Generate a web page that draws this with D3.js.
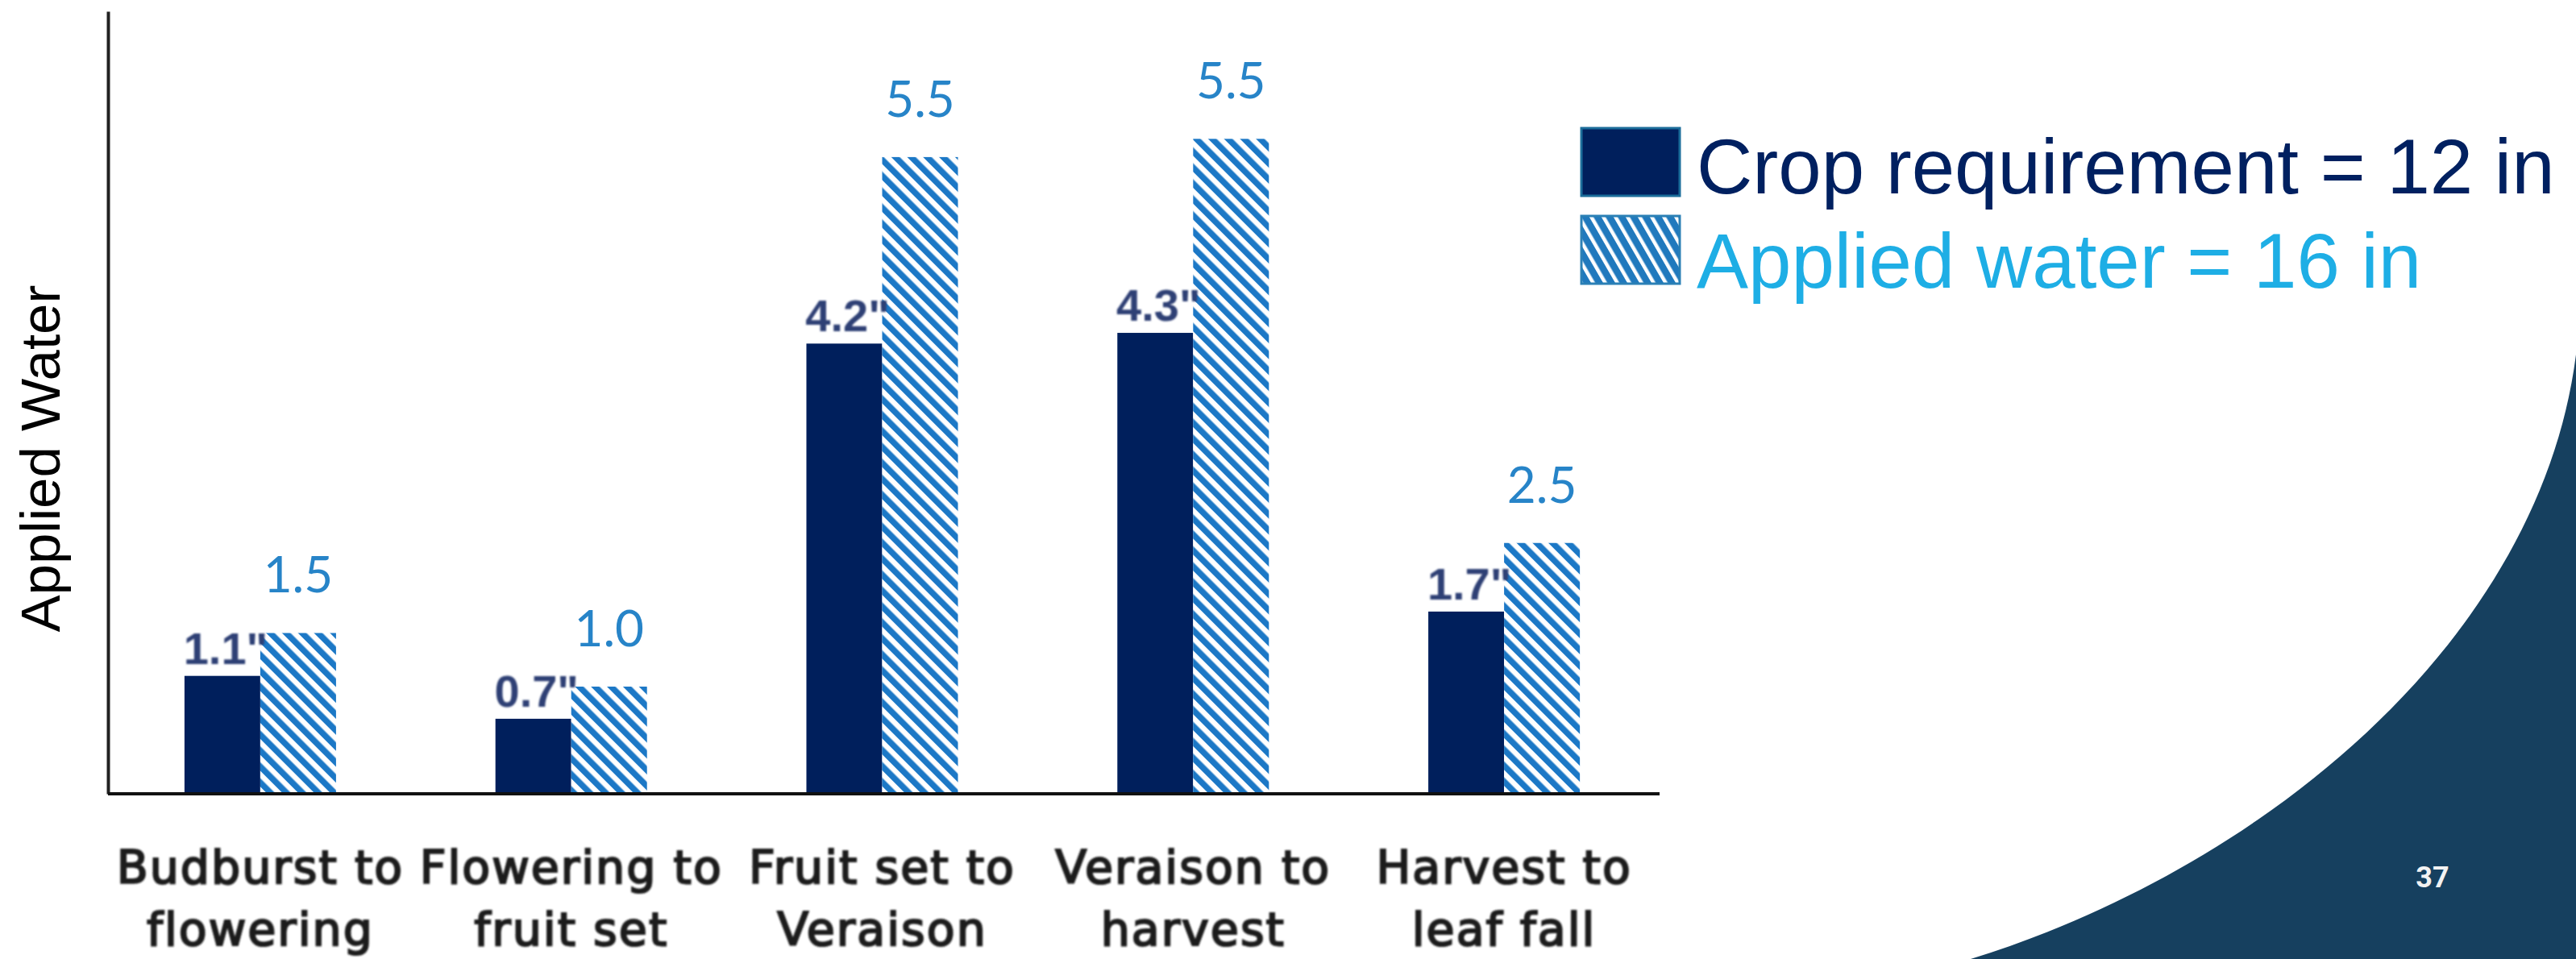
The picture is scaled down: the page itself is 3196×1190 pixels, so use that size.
<!DOCTYPE html>
<html><head><meta charset="utf-8">
<script src="https://cdn.jsdelivr.net/npm/d3@7"></script>
<style>html,body{margin:0;padding:0;background:#fff;overflow:hidden}</style>
</head><body><svg id="chart" width="3196" height="1190"></svg>
<script>
// ---- data ----
const categories = ["Budburst to\nflowering", "Flowering to\nfruit set", "Fruit set to\nVeraison", "Veraison to\nharvest", "Harvest to\nleaf fall"];
const seriesNames = ["Crop requirement = 12 in", "Applied water = 16 in"];
const cropRequirement = [1.1, 0.7, 4.2, 4.3, 1.7];
const cropLabels = ['1.1"', '0.7"', '4.2"', '4.3"', '1.7"'];
const appliedWater = [1.5, 1.0, 5.94, 6.11, 2.34];   // bar heights as drawn
const appliedLabels = ["1.5", "1.0", "5.5", "5.5", "2.5"];
const yAxisTitle = "Applied Water";
const pageNumber = "37";
const yMax = 7.3;

// ---- setup ----
const svg = d3.select("#chart");
const W = 3196, H = 1190;
const baseY = 985, topY = 14;

const defs = svg.append("defs");
const pat = defs.append("pattern").attr("id", "hatch").attr("patternUnits", "userSpaceOnUse")
  .attr("width", 14).attr("height", 14).attr("patternTransform", "rotate(-45)");
pat.append("rect").attr("width", 14).attr("height", 14).attr("fill", "#ffffff");
pat.append("rect").attr("width", 7.5).attr("height", 14).attr("fill", "#1c78c6");

const pat2 = defs.append("pattern").attr("id", "hatch2").attr("patternUnits", "userSpaceOnUse")
  .attr("width", 13).attr("height", 13).attr("patternTransform", "rotate(-30)");
pat2.append("rect").attr("width", 13).attr("height", 13).attr("fill", "#2079bd");
pat2.append("rect").attr("width", 4.5).attr("height", 13).attr("fill", "#ffffff");

const blur = defs.append("filter").attr("id", "soft");
blur.append("feGaussianBlur").attr("stdDeviation", 0.9);

// decorative corner shape
svg.append("path")
  .attr("d", `M${W},440 C3150,800 2800,1080 2445,${H} L${W},${H} Z`)
  .attr("fill", "#16405f");

// scales
const x0 = d3.scaleBand().domain(categories).range([130, 2059])
  .paddingInner(0.5126).paddingOuter(0.2563);
const x1 = d3.scaleBand().domain([0, 1]).range([0, x0.bandwidth()]);
const y = d3.scaleLinear().domain([0, yMax]).range([baseY, topY]);

// bars
const g = svg.append("g");
g.selectAll("rect.crop").data(categories).join("rect").attr("class", "crop")
  .attr("x", (d) => x0(d) + x1(0)).attr("width", x1.bandwidth())
  .attr("y", (d, i) => y(cropRequirement[i])).attr("height", (d, i) => y(0) - y(cropRequirement[i]))
  .attr("fill", "#001f5c");
g.selectAll("rect.applied").data(categories).join("rect").attr("class", "applied")
  .attr("x", (d) => x0(d) + x1(1)).attr("width", x1.bandwidth())
  .attr("y", (d, i) => y(appliedWater[i])).attr("height", (d, i) => y(0) - y(appliedWater[i]))
  .attr("fill", "url(#hatch)");

// value labels
g.selectAll("text.cropLab").data(categories).join("text").attr("class", "cropLab")
  .attr("x", (d) => x0(d) + x1(0) + x1.bandwidth() / 2 + 4)
  .attr("y", (d, i) => y(cropRequirement[i]) - 15)
  .attr("text-anchor", "middle")
  .attr("font-family", "Liberation Sans, Arial, sans-serif").attr("font-weight", "bold")
  .attr("font-size", 56).attr("fill", "#2f3f74").attr("filter", "url(#soft)")
  .text((d, i) => cropLabels[i]);
g.selectAll("text.appLab").data(categories).join("text").attr("class", "appLab")
  .attr("x", (d) => x0(d) + x1(1) + x1.bandwidth() / 2)
  .attr("y", (d, i) => y(appliedWater[i]) - 50)
  .attr("text-anchor", "middle")
  .attr("font-family", "Lato, sans-serif").attr("font-size", 62).attr("fill", "#2784c8")
  .text((d, i) => appliedLabels[i]);

// axes
const yAxis = svg.append("g").attr("transform", "translate(134,0)")
  .call(d3.axisLeft(y).ticks(0).tickSize(0).tickSizeOuter(0));
yAxis.selectAll("text").remove();
yAxis.select(".domain").attr("stroke", "#222").attr("stroke-width", 4);

const xAxis = svg.append("g").attr("transform", `translate(0,${baseY})`)
  .call(d3.axisBottom(x0).tickSize(0).tickSizeOuter(0));
xAxis.select(".domain").attr("stroke", "#111").attr("stroke-width", 4)
  .attr("d", "M134,0H2059");
xAxis.selectAll(".tick text").each(function (d) {
  const t = d3.select(this);
  t.text(null).attr("y", 0).attr("dy", null)
    .attr("font-family", "DejaVu Sans, sans-serif").attr("font-weight", "normal")
    .attr("font-size", 57).attr("letter-spacing", 2)
    .attr("fill", "#1e1e1e").attr("stroke", "#1e1e1e").attr("stroke-width", 2.2)
    .attr("filter", "url(#soft)");
  d.split("\n").forEach((line, k) => {
    t.append("tspan").attr("x", 0).attr("y", 111 + k * 77).text(line);
  });
});

// y axis title
svg.append("text").attr("transform", "translate(74,569) rotate(-90)")
  .attr("text-anchor", "middle").attr("font-family", "Liberation Sans, Arial, sans-serif")
  .attr("font-size", 69).attr("fill", "#000").text(yAxisTitle);

// legend
const lg = svg.append("g");
const legendFills = ["#001f5c", "url(#hatch2)"];
const legendStrokes = ["#1b6d9a", "#2b80b5"];
const legendColors = ["#002060", "#1eaee5"];
seriesNames.forEach((s, i) => {
  lg.append("rect").attr("x", 1962).attr("y", 159 + i * 109).attr("width", 122).attr("height", 84)
    .attr("fill", legendFills[i]).attr("stroke", legendStrokes[i]).attr("stroke-width", 3);
  lg.append("text").attr("x", 2105).attr("y", 240 + i * 117)
    .attr("font-family", "Liberation Sans, Arial, sans-serif").attr("font-size", 96)
    .attr("fill", legendColors[i]).text(s);
});

// page number
svg.append("text").attr("x", 3018).attr("y", 1101).attr("text-anchor", "middle")
  .attr("font-family", "Liberation Sans Narrow, Roboto, sans-serif").attr("font-weight", "bold")
  .attr("font-size", 36).attr("fill", "#f2f2f2").text(pageNumber);
</script>
</body></html>
